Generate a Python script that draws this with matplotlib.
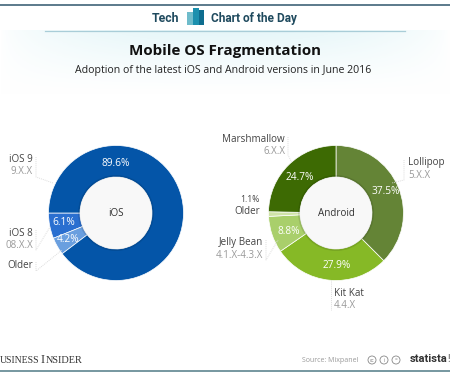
import numpy as np
import matplotlib
matplotlib.use('Agg')
import matplotlib.pyplot as plt
from matplotlib.patches import Circle, Rectangle

plt.rcParams['font.family'] = ['Open Sans', 'DejaVu Sans']

ios_names = ['iOS 8', 'Older', 'iOS 9']
ios_values = [6.1, 4.2, 89.6]
ios_colors = ['#2a6fd0', '#6a9fdf', '#0455a8']

android_names = ['Lollipop', 'Kit Kat', 'Jelly Bean', 'Older', 'Marshmallow']
android_values = [37.5, 27.9, 8.8, 1.1, 24.7]
android_colors = ['#648436', '#86b926', '#a9cf6b', '#cfe3a8', '#3d6a03']

W, H = 450, 375
fig = plt.figure(figsize=(W / 100, H / 100), dpi=100)
bg = fig.add_axes([0, 0, 1, 1])
bg.axis('off')

# pale band behind the title, fades out sideways and downwards
xx = np.linspace(0, 1, 225)
yy = np.linspace(0, 1, 30)
fade = np.sin(np.pi * xx) ** 0.6 * (1 - yy[:, None]) ** 1.2
band = np.ones((30, 225, 3))
tint = np.array([0.90, 0.965, 0.975])
for i in range(3):
    band[:, :, i] = 1 - (1 - tint[i]) * fade
bg.imshow(band, extent=(0, W, 95, 30), aspect='auto', zorder=0)
bg.set_xlim(0, W)
bg.set_ylim(H, 0)

# header and footer rules
bg.plot([0, W], [4.5, 4.5], color='#3f6478', lw=1.2)
bg.plot([45, 405], [30.5, 30.5], color='#a9cdd8', lw=0.9)
bg.plot([0, W], [370.5, 370.5], color='#5f8590', lw=1.2)

# logo
bg.add_patch(Rectangle((187, 12), 6, 13, color='#6fbccb', lw=0))
bg.add_patch(Rectangle((193, 8), 6, 17, color='#1c90ae', lw=0))
bg.add_patch(Rectangle((199, 10), 5, 15, color='#0e6d8f', lw=0))

narrow = ['Roboto', 'DejaVu Sans']
head = dict(family=narrow, color='#1f4a5e', fontweight='bold', ha='center', va='center')
bg.text(165.5, 18.5, 'Tech', fontsize=8.8, **head)
bg.text(254, 18.5, 'Chart of the Day', fontsize=8.6, **head)

bg.text(225, 50.5, 'Mobile OS Fragmentation', fontsize=10.9, fontweight='bold',
        color='#111111', ha='center', va='center')
bg.text(223, 71, 'Adoption of the latest iOS and Android versions in June 2016',
        fontsize=7.6, color='#222222', ha='center', va='center')


def donut(values, colors, cx, cy, r, hole, start, name):
    ax = fig.add_axes([(cx - r) / W, (H - cy - r) / H, 2 * r / W, 2 * r / H])
    ax.pie(values, colors=colors, startangle=start, counterclock=start == 180,
           radius=1, wedgeprops=dict(width=1 - hole / r, edgecolor='white', linewidth=0.5))
    ax.set_xlim(-1, 1)
    ax.set_ylim(-1, 1)
    ax.add_patch(Circle((0, 0), (hole + 2) / r, color='black', alpha=0.1, lw=0))
    ax.add_patch(Circle((0, 0), hole / r, color='#f8f8f8', lw=0))
    ax.text(0, 0, name, fontsize=7.1, color='#333333', ha='center', va='center')


donut(ios_values, ios_colors, 116, 213, 67.5, 36, 180, 'iOS')
donut(android_values, android_colors, 336, 213, 67.5, 36, 90, 'Android')

# value labels on the rings
pct = dict(color='white', fontsize=7.3, ha='center', va='center', zorder=5)
overlay = fig.add_axes([0, 0, 1, 1])
overlay.set_xlim(0, W)
overlay.set_ylim(H, 0)
overlay.axis('off')
overlay.patch.set_alpha(0)

ios_pos = [(64, 222.5), (68, 240), (116, 163)]
for v, (x, y) in zip(ios_values, ios_pos):
    overlay.text(x, y, f'{v}%', **pct)
android_pos = [(386, 191), (337, 265), (289, 232), (300, 177)]
for v, (x, y) in zip([android_values[0], android_values[1], android_values[2], android_values[4]], android_pos):
    overlay.text(x, y, f'{v}%', **pct)
overlay.text(250, 199, f'{android_values[3]}%', color='#444444', fontsize=6.2, ha='center', va='center')

# outside labels
dark = dict(color='#444444', fontsize=7.1, va='center')
grey = dict(color='#999999', fontsize=7.0, va='center')
overlay.text(33, 160, ios_names[2], ha='right', **dark)
overlay.text(33, 172, '9.X.X', ha='right', **grey)
overlay.text(33, 233, ios_names[0], ha='right', **dark)
overlay.text(33, 245, '08.X.X', ha='right', **grey)
overlay.text(33, 266, ios_names[1], ha='right', **dark)

overlay.text(285, 139, android_names[4], ha='right', **dark)
overlay.text(285, 151, '6.X.X', ha='right', **grey)
overlay.text(408, 163, android_names[0], ha='left', **dark)
overlay.text(408, 175, '5.X.X', ha='left', **grey)
overlay.text(260, 211, android_names[3], ha='right', **dark)
overlay.text(263, 243, android_names[2], ha='right', **dark)
overlay.text(263, 255, '4.1.X-4.3.X', ha='right', **grey)
overlay.text(334, 293, android_names[1], ha='left', **dark)
overlay.text(334, 305, '4.4.X', ha='left', **grey)

# dotted leader lines
lead = dict(color='#dddddd', lw=0.7, ls=(0, (1, 1)))
for xs, ys in [([36, 36, 53], [157, 177, 183]), ([36, 36, 50], [230, 250, 227]),
               ([36, 36, 62], [262, 271, 250]), ([288, 288, 292], [137, 155, 163]),
               ([404, 404, 392], [160, 180, 183]), ([331, 331], [280, 310]),
               ([266, 266, 278], [240, 260, 240])]:
    overlay.plot(xs, ys, **lead)

# footer
serif = dict(family=['Liberation Serif'], color='#333333', va='center')
overlay.text(0, 360.5, 'USINESS', fontsize=7, ha='left', **serif)
overlay.text(41, 360, 'I', fontsize=8.8, ha='left', **serif)
overlay.text(45.5, 360.5, 'NSIDER', fontsize=7.4, ha='left', **serif)
overlay.text(358, 361, 'Source: Mixpanel', fontsize=5, color='#999999', ha='right', va='center')
for x, s in zip([372, 384, 396], ['cc', 'i', '=']):
    overlay.add_patch(Circle((x, 360), 4, fc='white', ec='#888888', lw=0.6))
    overlay.text(x, 360, s, fontsize=3.5, color='#777777', ha='center', va='center')
overlay.text(447, 359.5, 'statista', fontsize=8, fontweight='bold', color='#333333',
             family=narrow, ha='right', va='center')
overlay.text(450, 359.5, '!', fontsize=8, fontweight='bold', color='#888888',
             family=narrow, ha='right', va='center')

fig.savefig('out.png', dpi=100)
